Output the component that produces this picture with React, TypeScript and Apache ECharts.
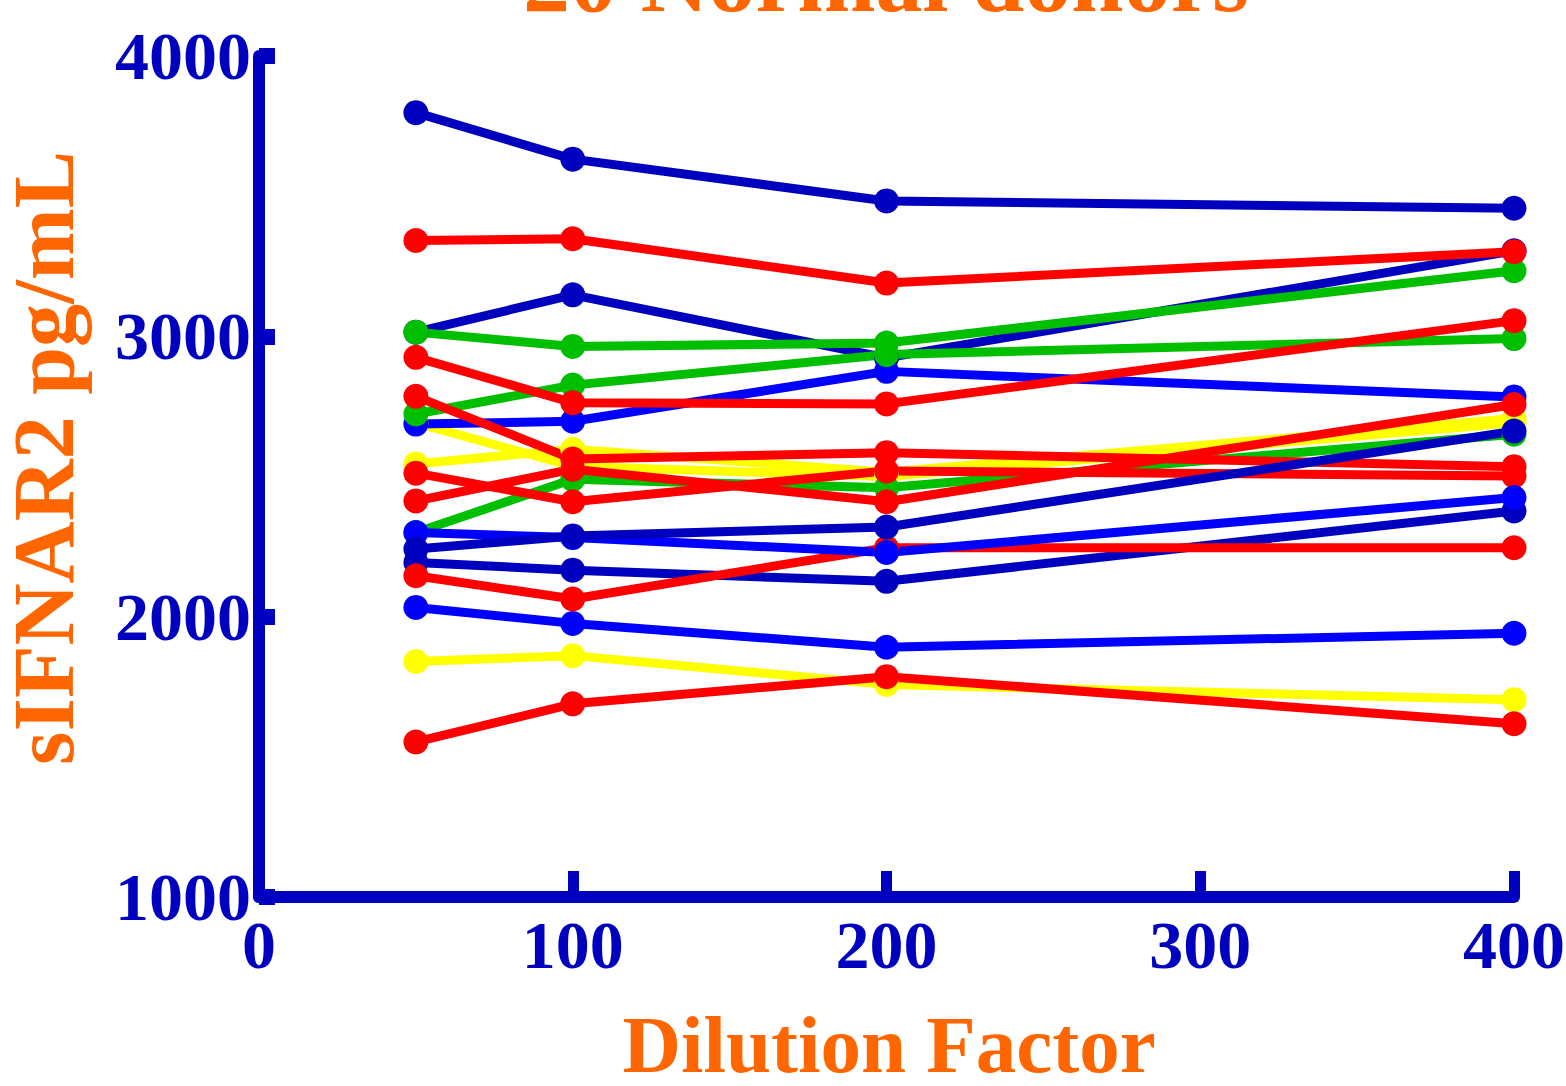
import React, { useEffect, useRef } from "react";
import * as echarts from "echarts";

const dilutions = [50, 100, 200, 400];
const xTicks = [0, 100, 200, 300, 400];
const yTicks = [1000, 2000, 3000, 4000];

const NAVY = "#0000BF";
const BLUE = "#0000FF";
const RED = "#FF0000";
const GREEN = "#00BF00";
const YELLOW = "#FFFF00";
const ORANGE = "#FF6600";

// donor values in draw order (first = bottom)
const donorNames = [
  "Y1", "Y2", "Y3", "N1", "N2", "N4", "B1", "B3", "G1", "G2", "G3",
  "R1", "R2", "R3", "R4", "R5", "R6", "R7", "B2", "N3",
];
const donorColors = [
  YELLOW, YELLOW, YELLOW, NAVY, NAVY, NAVY, BLUE, BLUE, GREEN, GREEN, GREEN,
  RED, RED, RED, RED, RED, RED, RED, BLUE, NAVY,
];
const Y1 = [2691, 2537, 2500, 2692];
const Y2 = [2545, 2597, 2515, 2707];
const Y3 = [1840, 1861, 1758, 1704];
const N1 = [3798, 3632, 3483, 3457];
const N2 = [3015, 3148, 2923, 3305];
const N3 = [2241, 2288, 2320, 2662];
const N4 = [2193, 2166, 2126, 2377];
const B1 = [2687, 2697, 2875, 2784];
const B2 = [2300, 2282, 2229, 2425];
const B3 = [2033, 1976, 1891, 1941];
const G1 = [3015, 2964, 2976, 3234];
const G2 = [2723, 2826, 2935, 2992];
const G3 = [2300, 2490, 2460, 2651];
const R1 = [3342, 3348, 3190, 3302];
const R2 = [2925, 2763, 2759, 3056];
const R3 = [2786, 2562, 2585, 2535];
const R4 = [2512, 2410, 2520, 2502];
const R5 = [2413, 2526, 2410, 2757];
const R6 = [2146, 2063, 2246, 2246];
const R7 = [1553, 1689, 1786, 1618];
const donorValues = [
  Y1, Y2, Y3, N1, N2, N4, B1, B3, G1, G2, G3,
  R1, R2, R3, R4, R5, R6, R7, B2, N3,
];

const titleText = "20 Normal donors";
const xName = "Dilution Factor";
const yName = "sIFNAR2 pg/mL";

const FONT = "'Liberation Serif', 'Times New Roman', serif";

export default function App() {
  const ref = useRef<HTMLDivElement>(null);
  useEffect(() => {
    if (!ref.current) return;
    const chart = echarts.init(ref.current, null, { renderer: "svg" });
    const series = donorValues.map((vals, i) => ({
      name: donorNames[i],
      type: "line",
      data: vals.map((v, j) => [dilutions[j], v]),
      symbol: "circle",
      symbolSize: 25,
      showSymbol: true,
      lineStyle: { width: 9, color: donorColors[i] },
      itemStyle: { color: donorColors[i] },
      emphasis: { disabled: true },
      z: 2,
    }));
    chart.setOption({
      animation: false,
      backgroundColor: "#ffffff",
      grid: {
        left: 259,
        right: 52,
        top: 56,
        bottom: 189,
        containLabel: false,
        outerBoundsMode: "none",
      },
      xAxis: {
        type: "value",
        min: xTicks[0],
        max: xTicks[xTicks.length - 1],
        interval: 100,
        splitLine: { show: false },
        axisLine: { show: true, onZero: false, lineStyle: { color: NAVY, width: 12 } },
        axisTick: { show: true, inside: true, length: 26, lineStyle: { color: NAVY, width: 11 } },
        axisLabel: {
          show: true,
          color: NAVY,
          fontSize: 68,
          fontWeight: "bold",
          fontFamily: FONT,
          margin: 14,
          showMinLabel: true,
          showMaxLabel: true,
          formatter: (v: number) => String(v),
        },
      },
      yAxis: {
        type: "value",
        min: yTicks[0],
        max: yTicks[yTicks.length - 1],
        interval: 1000,
        splitLine: { show: false },
        axisLine: { show: true, onZero: false, lineStyle: { color: NAVY, width: 12 } },
        axisTick: { show: true, inside: true, length: 16, lineStyle: { color: NAVY, width: 16 } },
        axisLabel: {
          show: true,
          color: NAVY,
          fontSize: 68,
          fontWeight: "bold",
          fontFamily: FONT,
          margin: 8,
          showMinLabel: true,
          showMaxLabel: true,
          formatter: (v: number) => String(v),
        },
      },
      graphic: [
        {
          type: "text",
          x: 886,
          y: -21,
          style: {
            text: titleText,
            fill: ORANGE,
            font: `bold 94px ${FONT}`,
            textAlign: "center",
            textVerticalAlign: "middle",
          },
        },
        {
          type: "text",
          x: 889,
          y: 1045,
          style: {
            text: xName,
            fill: ORANGE,
            font: `bold 81px ${FONT}`,
            lineHeight: 66,
            textAlign: "center",
            textVerticalAlign: "middle",
          },
        },
        {
          type: "text",
          x: 44,
          y: 458,
          rotation: Math.PI / 2,
          style: {
            text: yName,
            fill: ORANGE,
            font: `bold 86px ${FONT}`,
            lineHeight: 70,
            textAlign: "center",
            textVerticalAlign: "middle",
          },
        },
      ],
      series,
    });
    return () => chart.dispose();
  }, []);
  return (
    <div
      ref={ref}
      style={{ position: "fixed", left: 0, top: 0, width: 1566, height: 1086 }}
    />
  );
}
